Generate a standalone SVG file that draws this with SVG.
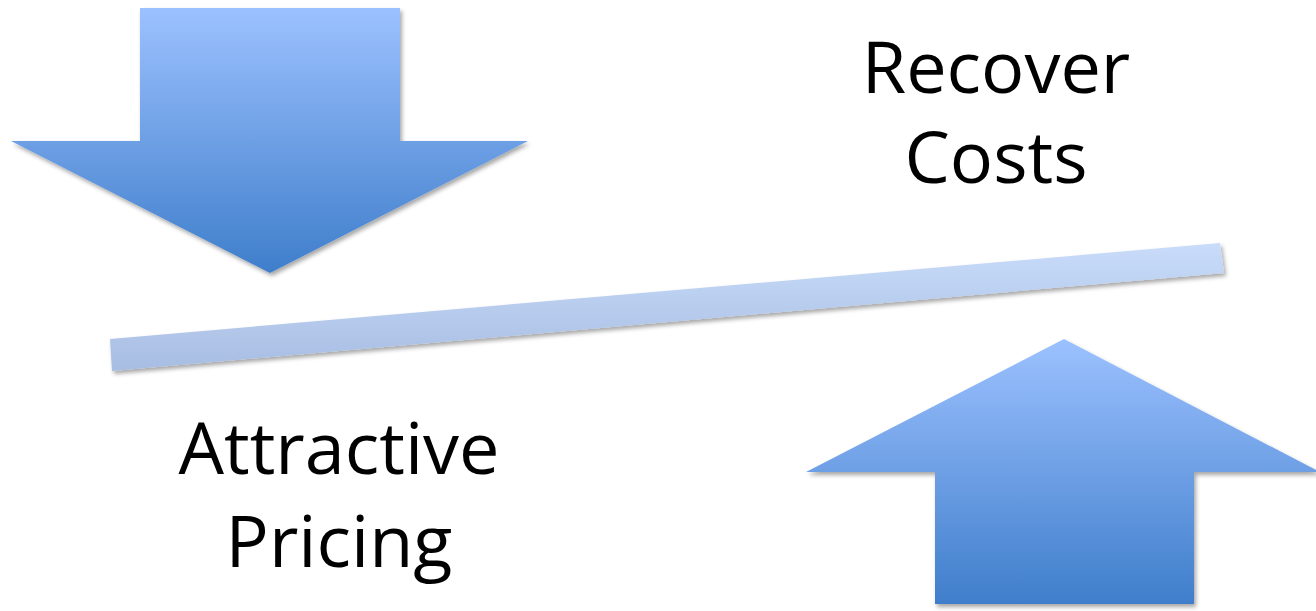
<svg xmlns="http://www.w3.org/2000/svg" width="1316" height="611" viewBox="0 0 1316 611">
  <defs>
    <linearGradient id="gDown" x1="0" y1="0" x2="0" y2="1">
      <stop offset="0" stop-color="#9cc1ff"/>
      <stop offset="1" stop-color="#3f7ecb"/>
    </linearGradient>
    <linearGradient id="gUp" x1="0" y1="0" x2="0" y2="1">
      <stop offset="0" stop-color="#9cc1ff"/>
      <stop offset="1" stop-color="#3f7ecb"/>
    </linearGradient>
    <linearGradient id="gBar" gradientUnits="userSpaceOnUse" x1="660" y1="370" x2="660" y2="243">
      <stop offset="0" stop-color="#a7bde2"/>
      <stop offset="1" stop-color="#c9dcfa"/>
    </linearGradient>
    <filter id="shadow" x="-10%" y="-10%" width="120%" height="130%">
      <feDropShadow dx="2" dy="3" stdDeviation="2" flood-color="#000" flood-opacity="0.35"/>
    </filter>
    <style>
      .label { font-family: "Open Sans", "Liberation Sans", sans-serif; font-size: 72px; fill: #000; text-anchor: middle; }
    </style>
  </defs>

  <g id="down-arrow">
    <polygon points="140,8 400,8 400,141 528,141 270,273 11,141 140,141" fill="url(#gDown)" filter="url(#shadow)"/>
  </g>

  <g id="up-arrow">
    <polygon points="1064,339 1320,472 1194,472 1194,604 935,604 935,472 806,472" fill="url(#gUp)" filter="url(#shadow)"/>
  </g>

  <g id="balance-bar">
    <polygon points="110,339 1220,243 1224,273 112,371" fill="url(#gBar)" filter="url(#shadow)"/>
  </g>

  <g id="recover-costs">
    <text class="label" x="996" y="93">Recover</text>
    <text class="label" x="996" y="183">Costs</text>
  </g>

  <g id="attractive-pricing">
    <text class="label" x="339" y="474">Attractive</text>
    <text class="label" x="339" y="567">Pricing</text>
  </g>

  <g id="connectors"/>
</svg>
